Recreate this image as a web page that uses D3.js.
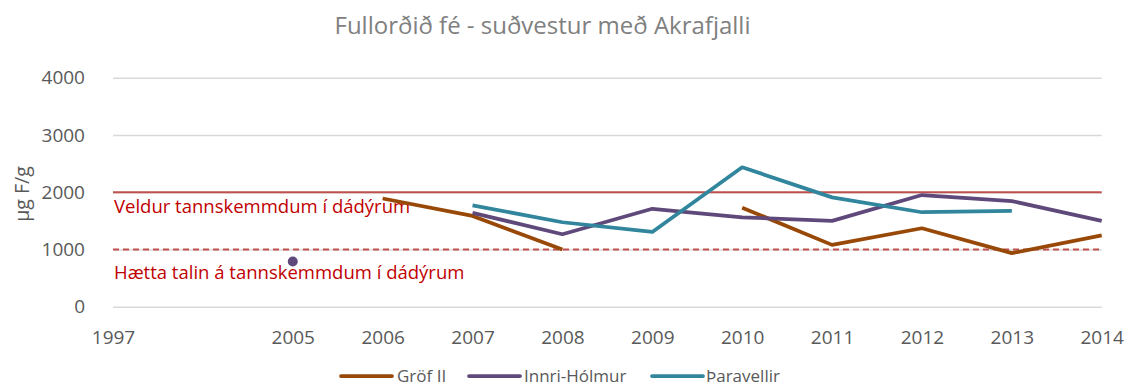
<!DOCTYPE html>
<html>
<head>
<meta charset="utf-8">
<script src="https://cdn.jsdelivr.net/npm/d3@7"></script>
<style>
  html, body { margin: 0; padding: 0; background: #fff; }
  svg { display: block; font-family: "Open Sans", "Noto Sans", sans-serif; }
</style>
</head>
<body>
<svg id="chart" width="1129" height="385"></svg>
<script>
// Sampling years (one slot has no label and no data)
const years = ["1997", "", "2005", "2006", "2007", "2008", "2009", "2010", "2011", "2012", "2013", "2014"];

// Fluoride in adult sheep, µg F/g, per site
const grofII      = [null, null, null, 1890, 1585, 1000, null, 1730, 1080, 1370, 935, 1245];
const innriHolmur = [null, null, 790, null, 1640, 1265, 1710, 1560, 1500, 1950, 1845, 1500];
const paravellir  = [null, null, null, null, 1770, 1475, 1305, 2435, 1910, 1650, 1675, null];

const seriesNames  = ["Gröf II", "Innri-Hólmur", "Þaravellir"];
const seriesColors = ["#984807", "#5F497A", "#31859C"];

const yTicks = [0, 1000, 2000, 3000, 4000];

// Reference levels for tooth damage in deer
const thresholds = [
  { value: 2000, label: "Veldur tannskemmdum í dádýrum", dashed: false },
  { value: 1000, label: "Hætta talin á tannskemmdum í dádýrum", dashed: true }
];

const title = "Fullorðið fé - suðvestur með Akrafjalli";
const yTitle = "µg F/g";

const svg = d3.select("#chart");
const margin = { left: 113, right: 1129 - 1101.7, top: 77.7, bottom: 385 - 306.7 };

const x = d3.scalePoint().domain(d3.range(years.length)).range([margin.left, 1129 - margin.right]).padding(0);
const y = d3.scaleLinear().domain([0, 4000]).range([385 - margin.bottom, margin.top]);

// Title
svg.append("text")
  .attr("x", 542.5).attr("y", 34)
  .attr("text-anchor", "middle")
  .attr("font-size", 24)
  .attr("fill", "#808080")
  .text(title);

// Horizontal gridlines + y tick labels
const yAxis = d3.axisLeft(y).tickValues(yTicks).tickSize(-(x.range()[1] - x.range()[0])).tickPadding(28).tickFormat(d3.format("d"));
const gy = svg.append("g").attr("transform", `translate(${margin.left},0)`).call(yAxis);
gy.select(".domain").remove();
gy.selectAll(".tick line").attr("stroke", "#d9d9d9").attr("stroke-width", 1.5);
gy.selectAll(".tick text").attr("font-size", 19).attr("fill", "#595959").attr("font-family", "Open Sans");

// x tick labels
const xAxis = d3.axisBottom(x).tickSize(0).tickPadding(24).tickFormat(i => years[i]);
const gx = svg.append("g").attr("transform", `translate(0,${y(0)})`).call(xAxis);
gx.select(".domain").remove();
gx.selectAll(".tick text").attr("font-size", 19).attr("fill", "#595959").attr("font-family", "Open Sans");

// y axis title
svg.append("text")
  .attr("transform", "translate(24,194) rotate(-90)")
  .attr("text-anchor", "middle")
  .attr("dominant-baseline", "middle")
  .attr("font-size", 19.5)
  .attr("fill", "#595959")
  .text(yTitle);

// Threshold lines with labels
const thr = svg.append("g");
thresholds.forEach(t => {
  thr.append("line")
    .attr("x1", x.range()[0]).attr("x2", x.range()[1])
    .attr("y1", y(t.value)).attr("y2", y(t.value))
    .attr("stroke", "#C0504D").attr("stroke-width", 2)
    .attr("stroke-dasharray", t.dashed ? "6,4" : null);
  thr.append("text")
    .attr("x", 114).attr("y", y(t.value) + (t.dashed ? 30 : 21))
    .attr("font-size", 18.5)
    .attr("fill", "#C00000")
    .text(t.label);
});

// Series lines
const allSeries = [grofII, innriHolmur, paravellir];
const line = d3.line()
  .defined(d => d != null)
  .x((d, i) => x(i))
  .y(d => y(d));

const gs = svg.append("g");
allSeries.forEach((vals, k) => {
  gs.append("path")
    .datum(vals)
    .attr("fill", "none")
    .attr("stroke", seriesColors[k])
    .attr("stroke-width", 3.75)
    .attr("stroke-linejoin", "round")
    .attr("d", line);
  // isolated values are shown as a dot
  vals.forEach((v, i) => {
    if (v != null && vals[i - 1] == null && vals[i + 1] == null) {
      gs.append("circle")
        .attr("cx", x(i)).attr("cy", y(v)).attr("r", 5)
        .attr("fill", seriesColors[k]);
    }
  });
});

// Legend
const legendItems = [
  { x: 341, tx: 397 },
  { x: 469, tx: 524 },
  { x: 652, tx: 706 }
];
const lg = svg.append("g");
seriesNames.forEach((name, k) => {
  lg.append("line")
    .attr("x1", legendItems[k].x).attr("x2", legendItems[k].x + 51)
    .attr("y1", 376).attr("y2", 376)
    .attr("stroke", seriesColors[k]).attr("stroke-width", 3.75)
    .attr("stroke-linecap", "round");
  lg.append("text")
    .attr("x", legendItems[k].tx).attr("y", 381.5)
    .attr("font-size", 17)
    .attr("fill", "#595959")
    .text(name);
});
</script>
</body>
</html>
